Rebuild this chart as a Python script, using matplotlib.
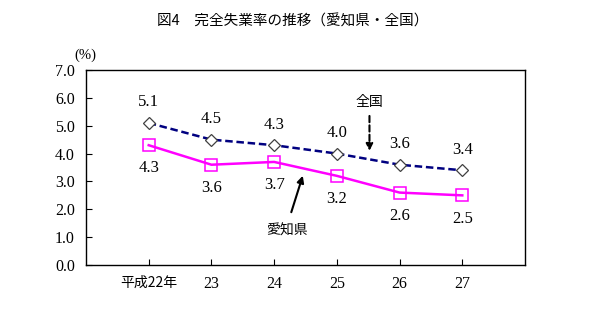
import matplotlib
matplotlib.use("Agg")
import matplotlib.pyplot as plt

plt.rcParams['font.family'] = ['Noto Sans CJK JP', 'DejaVu Sans']

categories = ['平成22年', '23', '24', '25', '26', '27']
zenkoku = [5.1, 4.5, 4.3, 4.0, 3.6, 3.4]
aichi = [4.3, 3.6, 3.7, 3.2, 2.6, 2.5]
yticks = [0.0, 1.0, 2.0, 3.0, 4.0, 5.0, 6.0, 7.0]

fig = plt.figure(figsize=(5.99, 3.34), dpi=100)
ax = fig.add_axes([86/599, 1-265/334, (525-86)/599, (265-70)/334])

x = list(range(len(categories)))
ax.plot(x, zenkoku, color='#000080', linestyle=(0, (3, 1.5)), linewidth=1.8,
        marker='D', markersize=6, markerfacecolor='white', markeredgecolor='#404040',
        markeredgewidth=0.9, zorder=3)
ax.plot(x, aichi, color='#FF00FF', linestyle='-', linewidth=1.8,
        marker='s', markersize=8, markerfacecolor='none', markeredgecolor='#FF00FF',
        markeredgewidth=1.1, zorder=3)

serif = ['Liberation Serif', 'DejaVu Serif']
numfont = dict(family=serif, fontsize=12)
for xi, v in zip(x, zenkoku):
    ax.annotate(f'{v:.1f}', (xi, v), xytext=(0, 9), textcoords='offset points',
                ha='center', va='bottom', **numfont)
for xi, v in zip(x, aichi):
    ax.annotate(f'{v:.1f}', (xi, v), xytext=(0, -11), textcoords='offset points',
                ha='center', va='top', **numfont)

ax.set_xlim(-1, 6)
ax.set_ylim(0, 7)
ax.set_xticks(x)
ax.set_xticklabels(categories, fontsize=10)
for lbl in ax.get_xticklabels()[1:]:
    lbl.set_family(serif)
    lbl.set_fontsize(11.5)
ax.set_yticks(yticks)
ax.set_yticklabels([f'{v:.1f}' for v in yticks], family=serif, fontsize=11.5)
ax.tick_params(axis='both', direction='in', length=4, width=0.8, pad=8)
for s in ax.spines.values():
    s.set_linewidth(1.0)
    s.set_color('black')

# annotations
ax.annotate('', xy=(3.52, 4.0), xytext=(3.52, 5.45),
            arrowprops=dict(arrowstyle='-|>', color='black', linestyle=(0, (3, 1.5)),
                            lw=1.5, mutation_scale=10))
ax.text(3.52, 5.85, '全国', ha='center', va='center', fontsize=10)
ax.annotate('', xy=(2.47, 3.3), xytext=(2.26, 1.8),
            arrowprops=dict(arrowstyle='-|>', color='black', lw=1.5, mutation_scale=10))
ax.text(2.21, 1.22, '愛知県', ha='center', va='center', fontsize=10)

fig.text(85/599, 1-55/334, '(%)', ha='center', va='center', fontsize=10.5, family=serif)
fig.text(293/599, 1-22/334, '図4　完全失業率の推移（愛知県・全国）', ha='center', va='center', fontsize=10.5)

fig.savefig('out.png', dpi=100)
